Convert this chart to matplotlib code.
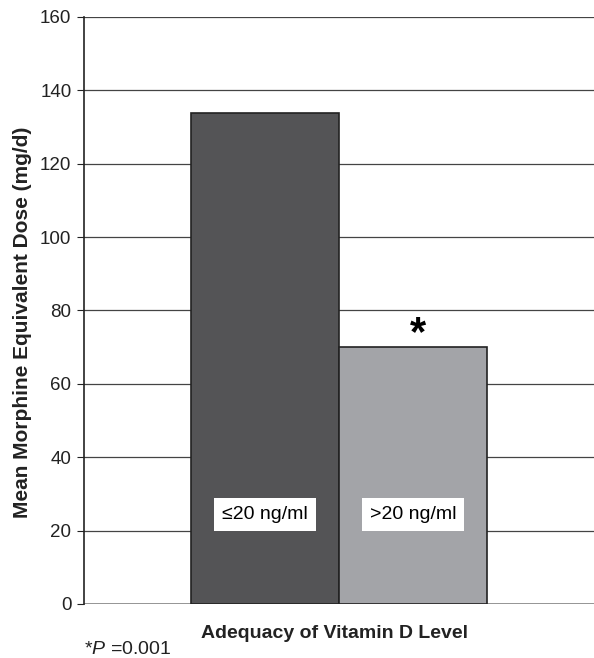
import matplotlib
matplotlib.use("Agg")
import matplotlib.pyplot as plt

plt.rcParams['font.family'] = ['Liberation Sans', 'DejaVu Sans']
plt.rcParams['mathtext.fontset'] = 'custom'
plt.rcParams['mathtext.rm'] = 'Liberation Sans'
plt.rcParams['mathtext.it'] = 'Liberation Sans:italic'

groups = ["≤20 ng/ml", ">20 ng/ml"]
values = [133.8, 70.0]
colors = ["#545456", "#a3a4a8"]
yticks = [0, 20, 40, 60, 80, 100, 120, 140, 160]

fig = plt.figure(figsize=(5.94, 6.58), dpi=100)
ax = fig.add_axes([0.1414, 0.0821, 0.8586, 0.8921])

pos = [-0.145, 0.145]
ax.bar(pos, values, width=0.29, color=colors, edgecolor="#222222", linewidth=1.2, zorder=3)

for p, g in zip(pos, groups):
    ax.text(p, 24.4, g, ha="center", va="center", fontsize=14, zorder=4,
            bbox=dict(boxstyle="square,pad=0.4", facecolor="white", edgecolor="none"))

ax.text(pos[1] + 0.009, values[1] - 2.0, "*", ha="center", va="bottom", fontsize=30, fontweight="bold", zorder=4)

ax.set_xlim(-0.5, 0.5)
ax.set_ylim(0, 160)
ax.set_yticks(yticks)
ax.set_xticks([])
ax.yaxis.grid(True, color="#444444", linewidth=0.9, zorder=0)
ax.set_axisbelow(True)
for s in ["top", "right", "bottom"]:
    ax.spines[s].set_visible(False)
ax.spines["left"].set_color("#222222")
ax.spines["left"].set_linewidth(1.2)
ax.axhline(0, color="#888888", linewidth=1.2, zorder=2)
ax.tick_params(axis="y", labelsize=13.5, length=5, pad=4, direction="out", colors="#222222", labelcolor="#222222")

ax.set_ylabel("Mean Morphine Equivalent Dose (mg/d)", fontsize=15, fontweight="bold", color="#222222")
ax.yaxis.set_label_coords(-0.102, 0.479)
ax.set_xlabel("Adequacy of Vitamin D Level", fontsize=14, fontweight="bold", color="#222222")
ax.xaxis.set_label_coords(0.492, -0.035)
ax.xaxis.label.set_va("top")

fig.text(84 / 594, 1 - 649 / 658, r"*$\it{P}$ =0.001", fontsize=14, color="#222222", ha="left", va="center")

fig.savefig("out.png", dpi=100)
